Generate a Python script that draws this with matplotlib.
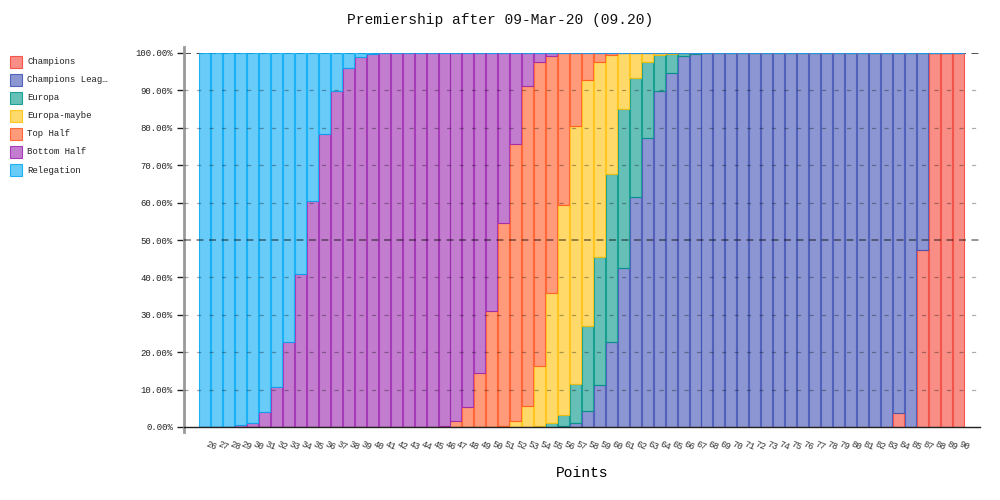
import matplotlib.pyplot as plt
import numpy as np
from matplotlib.patches import Rectangle
from matplotlib.ticker import FuncFormatter

plt.rcParams['font.family'] = ['Liberation Mono', 'DejaVu Sans Mono']
plt.rcParams['lines.scale_dashes'] = False

# points totals on the x axis (no 86 in the source)
points = list(range(26, 86)) + [87, 88, 89, 90]

series_names = ["Champions", "Champions League", "Europa", "Europa-maybe",
                "Top Half", "Bottom Half", "Relegation"]
legend_names = ["Champions", "Champions Leag…", "Europa", "Europa-maybe",
                "Top Half", "Bottom Half", "Relegation"]
colors = ["#F44336", "#3F51B5", "#009688", "#FFC107",
          "#FF5722", "#9C27B0", "#03A9F4"]

# percentages per points total, stacked bottom -> top
champions = [0] * 58 + [3.7, 0, 47.2, 100, 100, 100]
champions_league = ([0] * 30
                    + [0.3, 1.2, 4.4, 11.2, 22.8, 42.4, 61.4, 77.4, 89.8, 94.6, 99.2, 99.6]
                    + [100] * 16 + [96.3, 100, 52.8, 0, 0, 0])
europa = ([0] * 28
          + [0.3, 1.0, 2.9, 10.3, 22.7, 34.3, 44.8, 42.5, 31.8, 20.3, 9.7, 5.0, 0.7, 0.4]
          + [0] * 22)
europa_maybe = ([0] * 25
                + [0.3, 1.5, 5.7, 16.1, 34.7, 56.2, 69.0, 65.7, 52.2, 31.9, 15.1, 6.8,
                   2.3, 0.5, 0.4, 0.1]
                + [0] * 23)
top_half = ([0] * 19
            + [0.1, 0.3, 1.5, 5.3, 14.5, 31.1, 54.3, 74.1, 85.6, 81.1, 63.6, 40.5,
               19.5, 7.2, 2.3, 0.5]
            + [0] * 29)
bottom_half = ([0, 0, 0.1, 0.5, 1.2, 3.9, 10.8, 22.8, 40.8, 60.3, 78.3, 89.8, 95.9,
                98.8, 99.7, 100, 100, 100, 100, 99.9, 99.7, 98.5, 94.7, 85.5, 68.9,
                45.4, 24.4, 8.7, 2.5, 0.7, 0.1]
               + [0] * 33)
relegation = ([100, 100, 99.9, 99.5, 98.8, 96.1, 89.2, 77.2, 59.2, 39.7, 21.7, 10.2,
               4.1, 1.2, 0.3]
              + [0] * 49)

data = [champions, champions_league, europa, europa_maybe,
        top_half, bottom_half, relegation]

fig = plt.figure(figsize=(10, 5), dpi=100)
ax = fig.add_axes([0.184, 1 - 427 / 500, 0.796, 374 / 500])

x = np.arange(len(points))
bottom = np.zeros(len(points))
for vals, col in zip(data, colors):
    vals = np.array(vals, dtype=float)
    rgb = plt.matplotlib.colors.to_rgb(col)
    ax.bar(x, vals, bottom=bottom, width=0.92,
           facecolor=rgb + (0.6,), edgecolor=rgb + (0.85,), linewidth=0.8, zorder=2)
    bottom += vals

ax.set_xlim(-1.755, 64.84)
ax.set_ylim(0, 100)

# guides
for v in range(10, 101, 10):
    if v == 100:
        ax.axhline(v, color=(0, 0, 0, 0.8), lw=1.2, dashes=(5, 4), zorder=1)
    elif v == 50:
        ax.axhline(v, color=(0, 0, 0, 0.45), lw=1.3, dashes=(5, 4), zorder=3)
    else:
        ax.axhline(v, color=(0, 0, 0, 0.32), lw=0.9, dashes=(3, 6), zorder=3)

ax.set_yticks(range(0, 101, 10))
ax.yaxis.set_major_formatter(FuncFormatter(lambda v, p: f"{v:.2f}%"))
ax.tick_params(axis='y', length=5, width=1, labelsize=6.5, pad=3, colors='#222222')
for t, v in zip(ax.yaxis.get_major_ticks(), range(0, 101, 10)):
    t.tick1line.set_color('#111111' if v in (0, 50, 100) else '#bbbbbb')

ax.set_xticks(x)
ax.set_xticklabels([str(p) for p in points], rotation=-22, ha='left', va='baseline',
                   rotation_mode='anchor', fontsize=6.5, color='#333333')
ax.tick_params(axis='x', length=0, pad=14)

for s in ['top', 'right']:
    ax.spines[s].set_visible(False)
ax.spines['left'].set_color('#999999')
ax.spines['left'].set_linewidth(2)
ax.spines['left'].set_bounds(-1.3, 101.5)
ax.spines['bottom'].set_color('#222222')
ax.spines['bottom'].set_linewidth(1)

ax.set_xlabel("Points", fontsize=10.5, labelpad=10)
fig.text(0.5, 0.96, "Premiership after 09-Mar-20 (09.20)", ha='center', va='center',
         fontsize=10.5, color='#111111')

# legend on the left
for i, (name, col) in enumerate(zip(legend_names, colors)):
    yc = 62 + 18 * i
    rgb = plt.matplotlib.colors.to_rgb(col)
    fig.patches.append(Rectangle((9.5 / 1000, 1 - (yc + 6) / 500), 12 / 1000, 12 / 500,
                                 transform=fig.transFigure, facecolor=rgb + (0.6,),
                                 edgecolor=rgb + (0.85,), linewidth=0.8))
    fig.text(27 / 1000, 1 - yc / 500, name, ha='left', va='center', fontsize=6.5,
             color='#222222')

fig.savefig("out.png", dpi=100)
